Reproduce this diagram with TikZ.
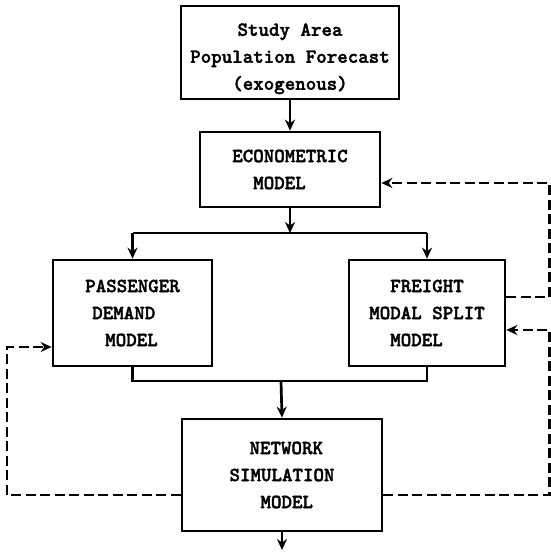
\documentclass[tikz,border=0pt]{standalone}
\usepackage{fontspec}
\newfontfamily\typewr{lmmonolt10-bold.otf}[FakeBold=1.8]
\usetikzlibrary{arrows.meta}
\begin{document}
\begin{tikzpicture}[x=1pt,y=-1pt,
  box/.style={draw,line width=2.7pt,rectangle,inner sep=0pt,
    font=\typewr\fontsize{20}{27}\selectfont},
  flow/.style={line width=2.7pt,-{Stealth[length=11pt,width=10pt]}},
  link/.style={line width=2.7pt},
  fback/.style={line width=2.7pt,dash pattern=on 10pt off 4.5pt,
    -{Stealth[length=11pt,width=10pt]}}]
\useasboundingbox (0,0) rectangle (550,552);

% model boxes
\node[box,minimum width=218pt,minimum height=93pt,align=center] (pop) at (290,52.5)
  {\rule{0pt}{25pt}Study Area\\Population Forecast\\(exogenous)};
\node[box,minimum width=180pt,minimum height=75pt,align=left] (econ) at (290,169.5)
  {ECONOMETRIC\\\hspace*{21pt}MODEL};
\node[box,minimum width=159pt,minimum height=106pt,align=left] (pass) at (132.5,313)
  {PASSENGER\\\hspace*{7pt}DEMAND\\\hspace*{20pt}MODEL};
\node[box,minimum width=156pt,minimum height=106pt,align=left] (frt) at (427,313)
  {\hspace*{21pt}FREIGHT\\MODAL SPLIT\\\hspace*{21pt}MODEL};
\node[box,minimum width=200pt,minimum height=112pt,align=left] (net) at (282,475)
  {\hspace*{20pt}NETWORK\\SIMULATION\\\hspace*{31pt}MODEL};

% junction points
\coordinate (split) at (290,233);
\coordinate (merge) at (281,381);
\coordinate (out) at (282,550);

% main flow
\draw[flow] (pop.south) -- (econ.north);
\draw[flow] (econ.south) -- (split);
\draw[link] (pass.north |- split) -- (frt.north |- split);
\draw[flow] (pass.north |- split) -- (pass.north);
\draw[flow] (frt.north |- split) -- (frt.north);
\draw[link] (pass.south) -- (pass.south |- merge) -- (frt.south |- merge) -- (frt.south);
\draw[flow] (merge) -- (net.north);
\draw[flow] (net.south) -- (out);

% feedback loops (the right-hand riser runs along the sheet edge)
\coordinate (lx) at (7,495);
\coordinate (rx) at (549.5,495);
\draw[fback] (net.west |- lx) -- (lx) -- (lx |- 0,347) -- (pass.west |- 0,347);
\draw[fback] (frt.east |- 0,297) -- (rx |- 0,297) -- (rx |- 0,183) -- (econ.east |- 0,183);
\draw[fback] (net.east |- rx) -- (rx) -- (rx |- 0,330) -- (frt.east |- 0,330);
\end{tikzpicture}
\end{document}
